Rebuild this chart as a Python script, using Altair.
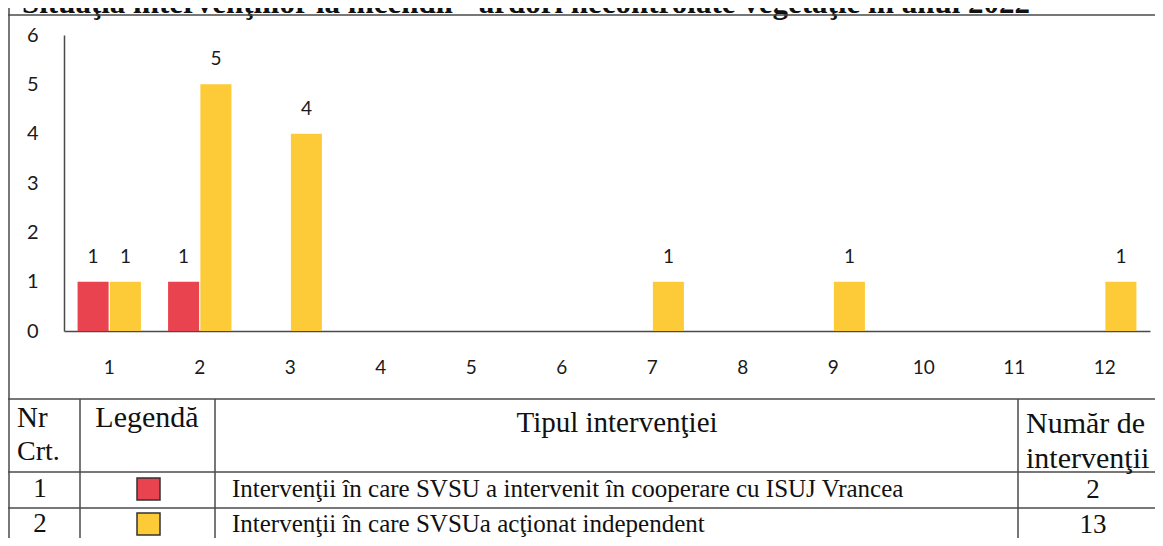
import altair as alt
import pandas as pd

# ---- data ----
months = [str(m) for m in range(1, 13)]
series_names = ["Intervenţii în care SVSU a intervenit în cooperare cu ISUJ Vrancea",
                "Intervenţii în care SVSUa acţionat  independent"]
coop = [1, 1, 0, 0, 0, 0, 0, 0, 0, 0, 0, 0]
indep = [1, 5, 4, 0, 0, 0, 1, 0, 1, 0, 0, 1]
y_ticks = [0, 1, 2, 3, 4, 5, 6]
title_text = "Situaţia intervenţiilor la incendii - ardori necontrolate vegetaţie în anul 2022"
header_nr = ["Nr", "Crt."]
header_leg = "Legendă"
header_type = "Tipul intervenţiei"
header_count = ["Număr de", "intervenţii"]
row_nr = ["1", "2"]
row_count = [str(sum(coop)), str(sum(indep))]

colors = ["#E9434F", "#FDCB37"]

rows = []
for i, m in enumerate(months):
    rows.append({"month": m, "series": series_names[0], "value": coop[i]})
    rows.append({"month": m, "series": series_names[1], "value": indep[i]})
df = pd.DataFrame(rows)

LINE = "#4a4a4a"
SANS = "Lato"
SERIF = "Liberation Serif"

x_enc = alt.X("month:O", sort=months,
              scale=alt.Scale(paddingInner=0.3, paddingOuter=0.15),
              axis=alt.Axis(title=None, labelAngle=0, ticks=False, grid=False,
                            domainColor=LINE, domainWidth=1.5, labelPadding=27,
                            labelFontSize=19, labelFont=SANS, labelColor="#1a1a1a"))
xo_enc = alt.XOffset("series:N", sort=series_names,
                     scale=alt.Scale(domain=series_names, paddingInner=0.04))
y_enc = alt.Y("value:Q", scale=alt.Scale(domain=[0, 6], nice=False),
              axis=alt.Axis(title=None, values=y_ticks, format="d", ticks=False, grid=False,
                            domainColor=LINE, domainWidth=1.5, labelPadding=26,
                            labelFontSize=20, labelFont=SANS, labelColor="#1a1a1a"))
c_enc = alt.Color("series:N", scale=alt.Scale(domain=series_names, range=colors), legend=None)

bars = alt.Chart(df).mark_bar().encode(x=x_enc, xOffset=xo_enc, y=y_enc, color=c_enc)
labels = alt.Chart(df).transform_filter("datum.value > 0").mark_text(
    dy=-25, fontSize=19, font=SANS, color="#1a1a1a", baseline="middle"
).encode(x=x_enc, xOffset=xo_enc, y=y_enc, text=alt.Text("value:Q", format="d"))

one = pd.DataFrame({"k": [0]})

RIGHT = 1100
BOTTOM = 512


def hrule(y, x1=-56, x2=RIGHT, w=1.5):
    return alt.Chart(one).mark_rule(color=LINE, strokeWidth=w).encode(
        x=alt.value(x1), x2=alt.value(x2), y=alt.value(y))


def vrule(x, y1, y2=BOTTOM, w=1.5):
    return alt.Chart(one).mark_rule(color=LINE, strokeWidth=w).encode(
        x=alt.value(x), y=alt.value(y1), y2=alt.value(y2))


def txt(s, x, y, size, align="center", font=SERIF, weight="normal", baseline="middle"):
    return alt.Chart(one).mark_text(fontSize=size, font=font, align=align, baseline=baseline,
                                    fontWeight=weight, color="#111").encode(
        x=alt.value(x), y=alt.value(y), text=alt.value(s))


layers = [bars, labels]
# title (cut off at the top of the page)
layers.append(txt(title_text, 966, -22, 31, align="right", weight="bold", baseline="alphabetic"))
# frame and table grid
layers += [hrule(-20), vrule(-55, -27), hrule(364), hrule(437), hrule(473), hrule(509),
           vrule(16, 364), vrule(151, 364), vrule(954, 364)]
# header
layers += [txt(header_nr[0], -47, 383, 29, align="left"),
           txt(header_nr[1], -47, 417, 28, align="left"),
           txt(header_leg, 83, 383, 30),
           txt(header_type, 553, 388, 29),
           txt(header_count[0], 962, 389, 30, align="left"),
           txt(header_count[1], 962, 424, 30, align="left")]
# rows
row_y = [454, 489]
for i in range(2):
    yy = row_y[i]
    layers.append(txt(row_nr[i], -24, yy, 27))
    layers.append(alt.Chart(one).mark_rect(color=colors[i], stroke="#333", strokeWidth=1.5).encode(
        x=alt.value(73), x2=alt.value(96), y=alt.value(yy - 11), y2=alt.value(yy + 11)))
    layers.append(txt(series_names[i], 168, yy, 25, align="left"))
    layers.append(txt(row_count[i], 1029, yy + 1, 27))

chart = alt.layer(*layers).properties(
    width=1086, height=296,
    autosize=alt.AutoSizeParams(type="none"),
    padding={"left": 56, "top": 27, "right": 5, "bottom": 207},
    background="white",
).configure_view(stroke=None)

chart.save("out.html", embed_options={"renderer": "svg", "actions": False})
